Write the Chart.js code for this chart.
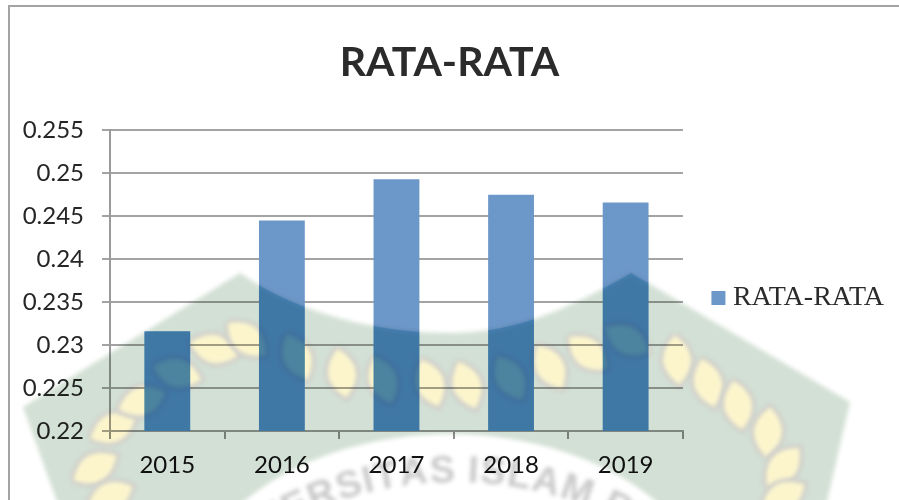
<!DOCTYPE html>
<html lang="en">

<head>
    <meta charset="UTF-8">
    <title>RATA-RATA</title>
    <script src="https://cdn.jsdelivr.net/npm/chart.js"></script>
    <style>
        body { margin: 0; background: #fff; }
        canvas { display: block; }
    </style>
</head>

<body>
    <canvas id="rataChart" width="899" height="500"></canvas>
    <script>
        const years = ['2015', '2016', '2017', '2018', '2019'];
        const rataRata = [0.2316, 0.2445, 0.2493, 0.2475, 0.2466];
        const yTickLabels = ['0.22', '0.225', '0.23', '0.235', '0.24', '0.245', '0.25', '0.255'];
        const seriesName = 'RATA-RATA';
        const chartTitle = 'RATA-RATA';

        // the faded university seal behind the chart
        const sealLeaves = [
            [95, 468, -30], [113, 428, -25], [142, 401, -20], [177, 373, 15], [214, 349, 15], [247, 339, 40],
            [297, 357, 65], [342, 373, 80], [383, 380, 70], [430, 383, 70], [467, 385, 70], [510, 378, 60],
            [550, 367, 60], [588, 353, 40], [627, 340, 30], [677, 360, 85], [708, 383, 75], [738, 405, 80],
            [768, 432, -85], [783, 467, -50], [110, 497, -25], [783, 497, -30]
        ];

        function sealShape(ctx) {
            ctx.beginPath();
            ctx.moveTo(240, 273);
            ctx.bezierCurveTo(300, 315, 380, 333, 450, 333);
            ctx.bezierCurveTo(520, 333, 575, 305, 631, 273);
            ctx.lineTo(850, 402);
            ctx.lineTo(825, 510);
            ctx.lineTo(60, 510);
            ctx.lineTo(23, 407);
            ctx.closePath();
        }

        function leafPath(ctx, x, y, deg) {
            ctx.save();
            ctx.translate(x, y);
            ctx.rotate(deg * Math.PI / 180);
            ctx.beginPath();
            ctx.moveTo(-25, 0);
            ctx.quadraticCurveTo(0, -28, 25, 0);
            ctx.quadraticCurveTo(0, 28, -25, 0);
            ctx.restore();
        }

        function buildSeal() {
            const layer = document.createElement('canvas');
            layer.width = 899;
            layer.height = 500;
            const ctx = layer.getContext('2d');
            ctx.fillStyle = '#fff';
            ctx.fillRect(0, 0, 899, 500);
            ctx.filter = 'blur(2px)';

            sealShape(ctx);
            ctx.fillStyle = '#d3e0d5';
            ctx.fill();

            // pale band under the axis that carries the lettering
            ctx.beginPath();
            ctx.ellipse(450, 624, 270, 190, 0, 0, Math.PI * 2);
            ctx.fillStyle = '#fff';
            ctx.fill();

            sealLeaves.forEach(([x, y, deg]) => {
                leafPath(ctx, x, y, deg);
                ctx.fillStyle = '#fcf5cc';
                ctx.strokeStyle = '#d0cfcb';
                ctx.lineWidth = 7;
                ctx.stroke();
                ctx.fill();
            });

            // lettering on an arc
            const text = 'UNIVERSITAS ISLAM RIAU';
            const radius = 367;
            ctx.font = 'bold 38px "Liberation Sans"';
            ctx.fillStyle = '#c9c9c9';
            ctx.textAlign = 'center';
            const total = ctx.measureText(text).width * 1.06;
            let angle = -total / 2 / radius - 0.035;
            for (const ch of text) {
                const w = ctx.measureText(ch).width * 1.06;
                ctx.save();
                ctx.translate(455, 849);
                ctx.rotate(angle + w / 2 / radius);
                ctx.fillText(ch, 0, -radius);
                ctx.restore();
                angle += w / radius;
            }
            return layer;
        }

        const sealPlugin = {
            id: 'seal',
            afterLayout(chart) {
                // legend sits lower and nearer the plot than the default box
                chart.legend.left += 9;
                chart.legend.right += 9;
                chart.legend.top += 48;
                chart.legend.bottom += 48;
            },
            beforeDraw(chart) {
                const ctx = chart.ctx;
                ctx.save();
                ctx.fillStyle = '#fff';
                ctx.fillRect(0, 0, chart.width, chart.height);
                ctx.strokeStyle = '#a3a3a3';
                ctx.lineWidth = 2;
                ctx.strokeRect(9, 6, chart.width + 20, chart.height + 20);
                ctx.restore();
            },
            afterDraw(chart) {
                const ctx = chart.ctx;
                const bottom = chart.scales.y.bottom;
                ctx.save();
                ctx.globalCompositeOperation = 'multiply';
                ctx.drawImage(buildSeal(), 0, 0);

                // the bars go darker and bluer under the seal
                ctx.beginPath();
                chart.getDatasetMeta(0).data.forEach((bar) => {
                    ctx.rect(bar.x - bar.width / 2, bar.y, bar.width, bottom - bar.y);
                });
                ctx.clip();
                sealShape(ctx);
                ctx.fillStyle = '#b5e6fa';
                ctx.fill();
                ctx.restore();
            }
        };

        new Chart(document.getElementById('rataChart').getContext('2d'), {
            type: 'bar',
            data: {
                labels: years,
                datasets: [{
                    label: seriesName,
                    data: rataRata,
                    backgroundColor: '#6c97c9',
                    barPercentage: 0.4,
                    categoryPercentage: 1
                }]
            },
            options: {
                responsive: false,
                animation: false,
                layout: { padding: { left: 14, right: 14, top: 0, bottom: 0 } },
                scales: {
                    x: {
                        afterFit: (scale) => { scale.height = 69; },
                        grid: { drawOnChartArea: false, color: '#8f8f8f', lineWidth: 2, tickLength: 8 },
                        border: { color: '#9a9a9a', width: 2 },
                        ticks: { color: '#111', padding: 12, maxRotation: 0, font: { family: 'Lato', size: 24 } }
                    },
                    y: {
                        min: 0.22,
                        max: 0.255,
                        afterFit: (scale) => { scale.width = 96; },
                        grid: { color: '#a3a3a3', lineWidth: 2, tickLength: 8 },
                        border: { color: '#9a9a9a', width: 2 },
                        ticks: {
                            stepSize: 0.005,
                            color: '#262626',
                            padding: 18,
                            font: { family: 'Lato', size: 24 },
                            callback: (value, index) => yTickLabels[index]
                        }
                    }
                },
                plugins: {
                    title: {
                        display: true,
                        text: chartTitle,
                        color: '#2b2b2b',
                        font: { family: 'Lato', size: 41, weight: 'bold' },
                        padding: { top: 38, bottom: 43 }
                    },
                    legend: {
                        position: 'right',
                        labels: {
                            usePointStyle: true,
                            pointStyle: 'rect',
                            boxWidth: 1,
                            boxHeight: 14,
                            padding: 26,
                            color: '#2b2b2b',
                            font: { family: 'Liberation Serif', size: 28 }
                        }
                    },
                    tooltip: { enabled: false }
                }
            },
            plugins: [sealPlugin]
        });
    </script>
</body>

</html>
